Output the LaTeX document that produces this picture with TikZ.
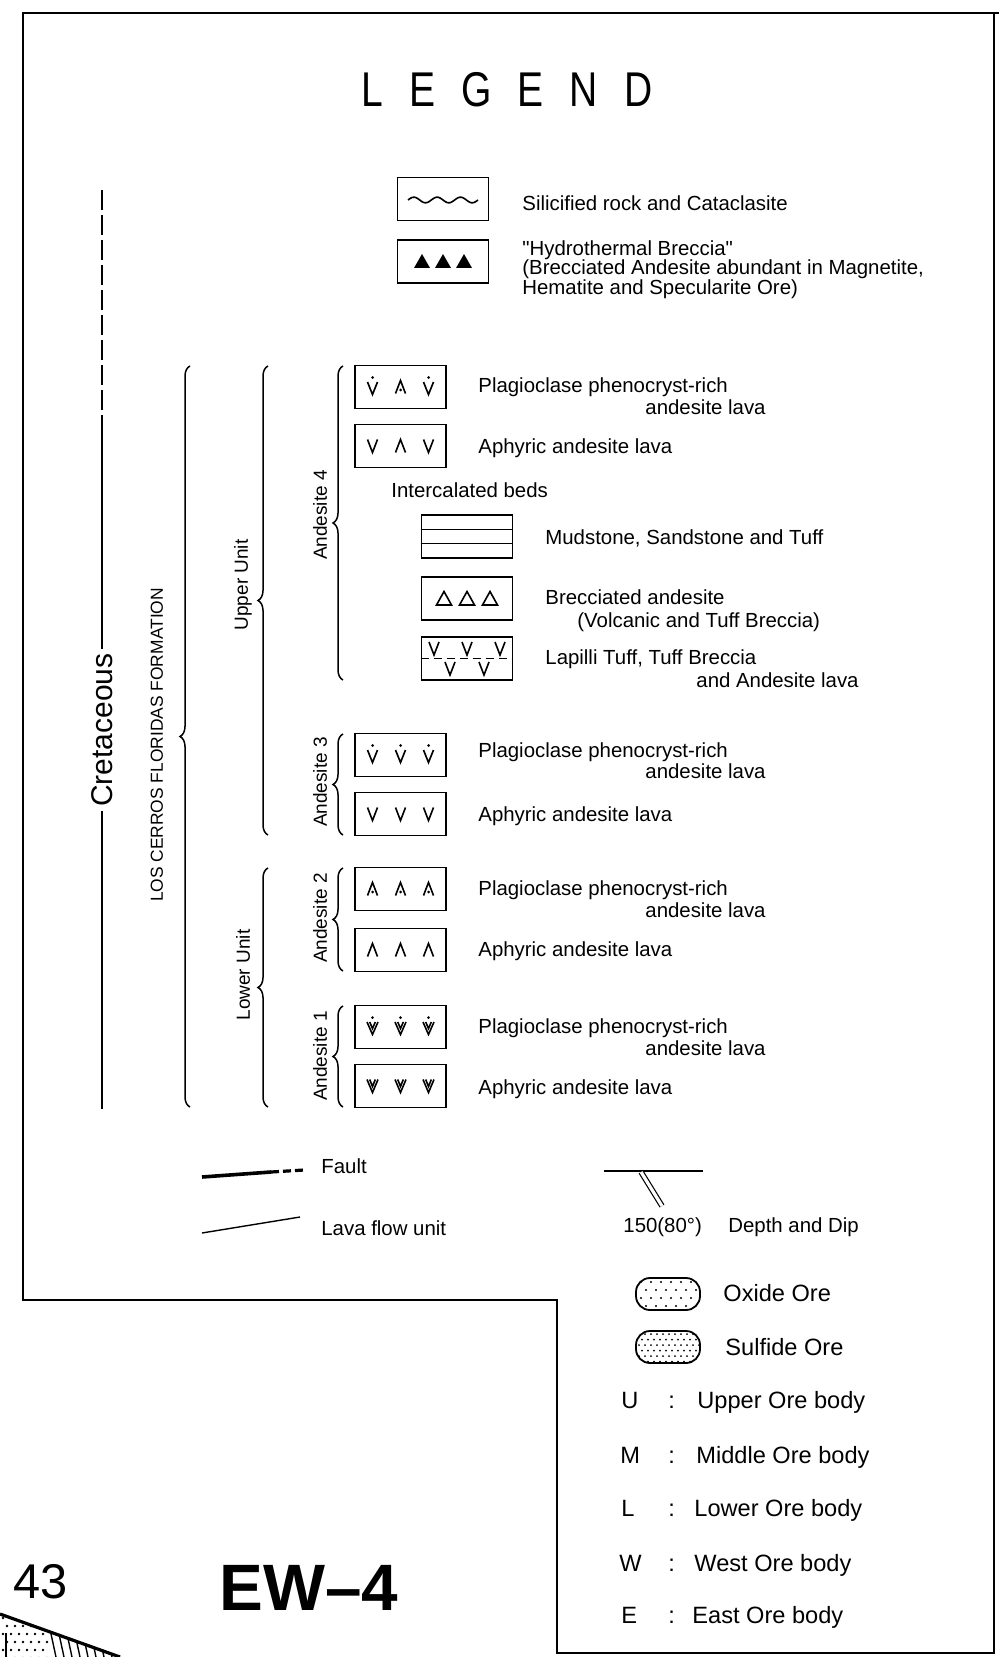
\documentclass[tikz,border=0pt]{standalone}
\usepackage{fontspec}
\setmainfont{Liberation Sans}
\newfontfamily\titlefont{Liberation Sans}[FakeStretch=0.8]
\newcommand\sq{\XeTeXglyph\XeTeXcharglyph"22\relax}
\usetikzlibrary{decorations.pathreplacing}
\tikzset{
 lgframe/.style={line width=1.3pt},
 txt/.style={anchor=base west, yshift=-3.7pt, inner sep=0pt, font=\fontsize{10.2}{12}\selectfont},
 oretxt/.style={anchor=base west, yshift=-4.3pt, inner sep=0pt, font=\fontsize{11.8}{14}\selectfont},
 sidelbl/.style={inner sep=0pt, rotate=90, font=\fontsize{9.5}{11}\selectfont},
 symbox/.style={draw, line width=0.9pt, minimum width=45.5pt, minimum height=21.5pt, inner sep=0pt},
 lgbrace/.style={decorate, decoration={brace, amplitude=5pt}, line width=0.75pt},
 lgsym/.style={line width=0.8pt, line join=miter},
 oreshape/.style={draw, line width=0.9pt, rounded corners=7pt, minimum width=32pt, minimum height=16pt, inner sep=0pt},
 pics/vee/.style={code={\draw[lgsym] (-5,-6.5) -- (0,6.5) -- (5,-6.5);}},
 pics/wedge/.style={code={\draw[lgsym] (-5,6.5) -- (0,-6.5) -- (5,6.5);}},
 pics/veedot/.style={code={\draw[lgsym] (-5,-5) -- (0,7.5) -- (5,-5); \fill (0,-9.5) circle (1.5);}},
 pics/wedgedot/.style={code={\draw[lgsym] (-5,6.5) -- (0,-6.5) -- (5,6.5); \fill (0,3) circle (1.5);}},
 pics/dvee/.style={code={\draw[lgsym] (-5.5,-6.5) -- (0,6.5) -- (5.5,-6.5); \draw[lgsym] (-2.8,-6.5) -- (0,0.5) -- (2.8,-6.5);}},
 pics/dveedot/.style={code={\draw[lgsym] (-5.5,-5) -- (0,7.5) -- (5.5,-5); \draw[lgsym] (-2.8,-5) -- (0,1.5) -- (2.8,-5); \fill (0,-9.5) circle (1.5);}},
 pics/ftri/.style={code={\fill (-8,6.5) -- (0,-7.5) -- (8,6.5) -- cycle;}},
 pics/otri/.style={code={\draw[lgsym] (-7.5,6.5) -- (0,-7) -- (7.5,6.5) -- cycle;}},
}
\begin{document}
\begin{tikzpicture}[x=0.5pt,y=-0.5pt]
\useasboundingbox (0,0) rectangle (999,1657);
\fill[white] (0,0) rectangle (999,1657);

% frame
\draw[lgframe] (999,13) -- (23,13) -- (23,1300) -- (557,1300) -- (557,1653) -- (994,1653) -- (994,13);

% title
\node[font=\titlefont\fontsize{24.4}{26}\selectfont, inner sep=0pt] (title) at (507,90) {\spaceskip=13pt L E G E N D};

% top symbol boxes
\node[symbox] (wv) at (443,199) {};
\draw[lgsym] plot[domain=0:1080,samples=80,smooth] ({408+\x/15.43},{200-2.8*sin(\x)});
\node[txt] (twv) at (522,203) {Silicified rock and Cataclasite};

\node[symbox] (hy) at (443,261.5) {};
\foreach \dx in {-21,0,21} \path (hy) ++(\dx,0) pic {ftri};
\node[txt] (thy1) at (522,248) {\sq Hydrothermal Breccia\sq};
\node[txt] (thy2) at (522,267) {(Brecciated Andesite abundant in Magnetite,};
\node[txt] (thy3) at (522,287) {Hematite and Specularite Ore)};

% Andesite 4
\node[symbox] (a4p) at (400.5,387) {};
\path (a4p) ++(-28,0) pic {veedot};
\path (a4p) pic {wedgedot};
\path (a4p) ++(28,0) pic {veedot};
\node[txt] (ta4p1) at (478,385) {Plagioclase phenocryst-rich};
\node[txt] (ta4p2) at (645,407) {andesite lava};

\node[symbox] (a4a) at (400.5,446) {};
\path (a4a) ++(-28,0) pic {vee};
\path (a4a) pic {wedge};
\path (a4a) ++(28,0) pic {vee};
\node[txt] (ta4a) at (478,446) {Aphyric andesite lava};

\node[txt] (tib) at (391,490) {Intercalated beds};

\node[symbox] (mud) at (467,536.5) {};
\draw[line width=0.7pt] ([yshift=3.5pt]mud.west) -- ([yshift=3.5pt]mud.east);
\draw[line width=0.7pt] ([yshift=-3.5pt]mud.west) -- ([yshift=-3.5pt]mud.east);
\node[txt] (tmud) at (545,537) {Mudstone, Sandstone and Tuff};

\node[symbox] (brc) at (467,598.5) {};
\foreach \dx in {-23,0,23} \path (brc) ++(\dx,0) pic {otri};
\node[txt] (tbrc1) at (545,597) {Brecciated andesite};
\node[txt] (tbrc2) at (577,620) {(Volcanic and Tuff Breccia)};

\node[symbox] (lap) at (467,658.5) {};
\draw[line width=0.7pt, dash pattern=on 4pt off 2.5pt] (lap.west) -- (lap.east);
\foreach \dx in {-33,0,33} \path (lap) ++(\dx,-10) pic {vee};
\foreach \dx in {-17,17} \path (lap) ++(\dx,10) pic {vee};
\node[txt] (tlap1) at (545,657) {Lapilli Tuff, Tuff Breccia};
\node[txt] (tlap2) at (696,680) {and Andesite lava};

% Andesite 3
\node[symbox] (a3p) at (400.5,755) {};
\foreach \dx in {-28,0,28} \path (a3p) ++(\dx,0) pic {veedot};
\node[txt] (ta3p1) at (478,750) {Plagioclase phenocryst-rich};
\node[txt] (ta3p2) at (645,771) {andesite lava};
\node[symbox] (a3a) at (400.5,814) {};
\foreach \dx in {-28,0,28} \path (a3a) ++(\dx,0) pic {vee};
\node[txt] (ta3a) at (478,814) {Aphyric andesite lava};

% Andesite 2
\node[symbox] (a2p) at (400.5,889) {};
\foreach \dx in {-28,0,28} \path (a2p) ++(\dx,0) pic {wedgedot};
\node[txt] (ta2p1) at (478,888) {Plagioclase phenocryst-rich};
\node[txt] (ta2p2) at (645,910) {andesite lava};
\node[symbox] (a2a) at (400.5,950) {};
\foreach \dx in {-28,0,28} \path (a2a) ++(\dx,0) pic {wedge};
\node[txt] (ta2a) at (478,949) {Aphyric andesite lava};

% Andesite 1
\node[symbox] (a1p) at (400.5,1027) {};
\foreach \dx in {-28,0,28} \path (a1p) ++(\dx,0) pic {dveedot};
\node[txt] (ta1p1) at (478,1026) {Plagioclase phenocryst-rich};
\node[txt] (ta1p2) at (645,1048) {andesite lava};
\node[symbox] (a1a) at (400.5,1086) {};
\foreach \dx in {-28,0,28} \path (a1a) ++(\dx,0) pic {dvee};
\node[txt] (ta1a) at (478,1087) {Aphyric andesite lava};

% braces
\draw[lgbrace] (190,1107) -- (190,366);
\draw[lgbrace] (268,835) -- (268,366);
\draw[lgbrace] (268,1107) -- (268,868);
\draw[lgbrace] (343,680) -- (343,366);
\draw[lgbrace] (343,835) -- (343,734);
\draw[lgbrace] (343,971) -- (343,868);
\draw[lgbrace] (343,1107) -- (343,1006);

% side labels
\node[sidelbl] (lU) at (243,585) {Upper Unit};
\node[sidelbl] (lL) at (243,975) {Lower Unit};
\node[sidelbl] (la4) at (320,515) {Andesite 4};
\node[sidelbl] (la3) at (320,782) {Andesite 3};
\node[sidelbl] (la2) at (320,918) {Andesite 2};
\node[sidelbl] (la1) at (320,1056) {Andesite 1};
\node[sidelbl, font=\fontsize{8.7}{10}\selectfont] (fm) at (157,745) {LOS CERROS FLORIDAS FORMATION};

% Cretaceous line
\coordinate (crA) at (102,190);
\coordinate (crB) at (102,420);
\coordinate (crC) at (102,1109);
\draw[line width=0.9pt, dash pattern=on 10pt off 2.5pt] (crA) -- (crB);
\draw[line width=0.9pt] (crB) -- (crC);
\node[sidelbl, font=\fontsize{15}{17}\selectfont, fill=white, inner xsep=2pt, inner ysep=0pt] (cr) at (102,730) {Cretaceous};

% fault and lava flow
\coordinate (fa) at (202,1177); \coordinate (fb) at (271,1172); \coordinate (fc) at (304,1170);
\draw[line width=1.8pt] (fa) -- (fb);
\draw[line width=1.6pt, dash pattern=on 4pt off 2pt] (fb) -- (fc);
\node[txt] (tfault) at (321,1166) {Fault};
\coordinate (la) at (202,1233); \coordinate (lb) at (300,1217);
\draw[line width=0.7pt] (la) -- (lb);
\node[txt] (tlava) at (321,1228) {Lava flow unit};

% depth and dip
\coordinate (da) at (604,1171); \coordinate (db) at (703,1171);
\coordinate (dc) at (641,1172); \coordinate (dd) at (662,1206);
\draw[line width=1pt] (da) -- (db);
\draw[double, double distance=1.6pt, line width=0.6pt] (dc) -- (dd);
\node[txt] (tdep) at (623,1225) {150(80°)};
\node[txt] (tdd) at (728,1225) {Depth and Dip};

% ore legend
\node[oreshape] (ox) at (668,1294) {};
\begin{scope}
\clip[rounded corners=7pt] (636,1278) rectangle (700,1310);
\foreach \i in {0,...,6} \foreach \j in {0,...,3} \fill ({641+\i*10+mod(\j,2)*5},{1282+\j*8}) circle (1.2);
\end{scope}
\node[oretxt] (tox) at (723,1293) {Oxide Ore};
\node[oreshape] (su) at (668,1347) {};
\begin{scope}
\clip[rounded corners=7pt] (636,1331) rectangle (700,1363);
\foreach \i in {0,...,10} \foreach \j in {0,...,5} \fill ({639+\i*6+mod(\j,2)*3},{1334+\j*5.5}) circle (1.0);
\end{scope}
\node[oretxt] (tsu) at (725,1347) {Sulfide Ore};

\node[oretxt] (kU) at (621,1400) {U};
\node[oretxt] (cU) at (668,1400) {:};
\node[oretxt] (dU) at (697,1400) {Upper Ore body};
\node[oretxt] (kM) at (620,1455) {M};
\node[oretxt] (cM) at (668,1455) {:};
\node[oretxt] (dM) at (696,1455) {Middle Ore body};
\node[oretxt] (kL) at (621,1508) {L};
\node[oretxt] (cL) at (668,1508) {:};
\node[oretxt] (dL) at (694,1508) {Lower Ore body};
\node[oretxt] (kW) at (619,1563) {W};
\node[oretxt] (cW) at (668,1563) {:};
\node[oretxt] (dW) at (694,1563) {West Ore body};
\node[oretxt] (kE) at (621,1615) {E};
\node[oretxt] (cE) at (668,1615) {:};
\node[oretxt] (dE) at (692,1615) {East Ore body};

% bottom-left labels
\node[anchor=base west, inner sep=0pt, font=\fontsize{24.4}{26}\selectfont] (n43) at (13,1598) {43};
\node[anchor=base west, inner sep=0pt, font=\bfseries\fontsize{32.8}{34}\selectfont] (ew) at (219,1610) {EW--4};

% bottom-left map fragment
\begin{scope}
\clip (0,1614) -- (120,1657) -- (0,1657) -- cycle;
\foreach \i in {0,...,5} \foreach \j in {0,...,5} \fill ({3+\i*8+mod(\j,2)*4},{1618+\j*8}) circle (1.3);
\foreach \xx in {48,56,...,112} \draw[line width=0.7pt] (\xx,1620) -- (\xx+8,1657);
\end{scope}
\draw[line width=1.6pt] (0,1614) -- (120,1657);
\draw[line width=1pt] (6,1633) -- (6,1657);
\end{tikzpicture}
\end{document}
